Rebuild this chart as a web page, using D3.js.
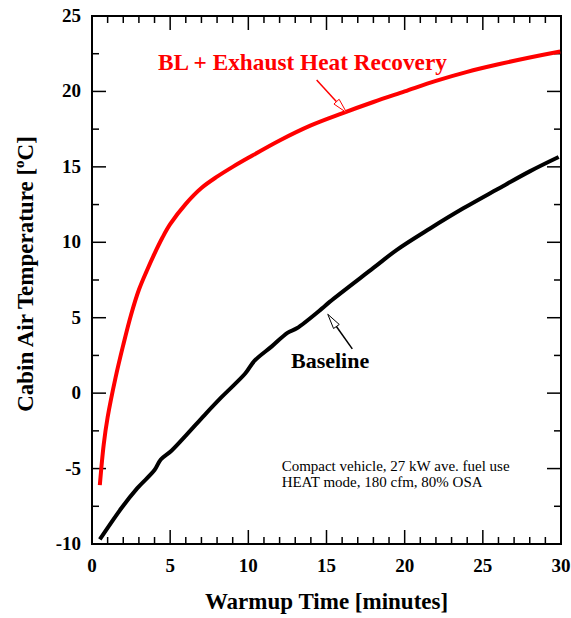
<!DOCTYPE html>
<html><head><meta charset="utf-8">
<script src="https://cdn.jsdelivr.net/npm/d3@7"></script>
<style>body{margin:0;background:#fff}svg{display:block}</style>
</head><body><div id="chart"></div>
<script>
const redT = [0.5,0.75,1,1.5,2,2.5,3,3.5,4,4.5,5,6,7,8,9,10,12,14,16,18,20,22,24,26,28,29.95];
const redV = [-6.1,-3.4,-1.6,1.0,3.2,5.2,6.85,8.1,9.25,10.3,11.2,12.55,13.6,14.35,15.0,15.6,16.75,17.75,18.55,19.3,20.0,20.7,21.3,21.8,22.25,22.65];
const blackT = [0.5,1.9,2.9,4.0,4.4,5.1,6.1,7.2,8.3,9.8,10.4,11.5,12.5,13.1,14.7,15.2,18.0,19.5,21.6,23.75,25.9,28.0,29.85];
const blackV = [-9.7,-7.6,-6.3,-5.1,-4.4,-3.8,-2.7,-1.45,-0.25,1.3,2.15,3.1,4.0,4.3,5.6,6.05,8.3,9.5,10.9,12.25,13.5,14.7,15.65];
const xTicks = [0,5,10,15,20,25,30];
const yTicks = [-10,-5,0,5,10,15,20,25];
const xLabel = "Warmup Time [minutes]";
const redLabel = "BL + Exhaust Heat Recovery";
const blackLabel = "Baseline";
const noteLines = ["Compact vehicle, 27 kW ave. fuel use", "HEAT mode, 180 cfm, 80% OSA"];

const W = 571, H = 618;
const m = {l:92, t:16, r:10, b:74};
const svg = d3.select("#chart").append("svg").attr("width", W).attr("height", H);
const x = d3.scaleLinear().domain([0,30]).range([m.l, W-m.r]);
const y = d3.scaleLinear().domain([-10,25]).range([H-m.b, m.t]);
const font = "'Liberation Serif','Times New Roman',serif";

// minor & major ticks on all four sides
const g = svg.append("g").attr("stroke","#000").attr("stroke-width",1.5);
d3.range(0,31,1).forEach(v=>{
  const L = v%5===0 ? 14 : 7;
  g.append("line").attr("x1",x(v)).attr("x2",x(v)).attr("y1",y(-10)).attr("y2",y(-10)-L);
  g.append("line").attr("x1",x(v)).attr("x2",x(v)).attr("y1",y(25)).attr("y2",y(25)+L);
});
d3.range(-10,25.1,2.5).forEach(v=>{
  const L = v%5===0 ? 14 : 7;
  g.append("line").attr("y1",y(v)).attr("y2",y(v)).attr("x1",x(0)).attr("x2",x(0)+L);
  g.append("line").attr("y1",y(v)).attr("y2",y(v)).attr("x1",x(30)).attr("x2",x(30)-L);
});
svg.append("rect").attr("x",x(0)).attr("y",y(25)).attr("width",x(30)-x(0)).attr("height",y(-10)-y(25))
  .attr("fill","none").attr("stroke","#000").attr("stroke-width",2);

// tick labels
svg.append("g").selectAll("text").data(xTicks).join("text")
  .attr("x",d=>x(d)).attr("y",y(-10)+28).attr("text-anchor","middle")
  .attr("font-family",font).attr("font-weight","bold").attr("font-size",19).text(d=>d);
svg.append("g").selectAll("text").data(yTicks).join("text")
  .attr("x",x(0)-11).attr("y",d=>y(d)+6).attr("text-anchor","end")
  .attr("font-family",font).attr("font-weight","bold").attr("font-size",19).text(d=>d);

// axis titles
svg.append("text").attr("x",(x(0)+x(30))/2).attr("y",609).attr("text-anchor","middle")
  .attr("font-family",font).attr("font-weight","bold").attr("font-size",23).text(xLabel);
const yt = svg.append("text").attr("transform",`translate(33,${274}) rotate(-90)`).attr("text-anchor","middle")
  .attr("font-family",font).attr("font-weight","bold").attr("font-size",23);
yt.append("tspan").text("Cabin Air Temperature [");
yt.append("tspan").attr("font-size",15).attr("dy",-9).text("o");
yt.append("tspan").attr("dy",9).text("C]");

// curves
const line = d3.line().x(d=>x(d[0])).y(d=>y(d[1])).curve(d3.curveCatmullRom.alpha(0.5));
svg.append("path").datum(redT.map((t,i)=>[t,redV[i]])).attr("d",line)
  .attr("fill","none").attr("stroke","#ff0000").attr("stroke-width",4);
svg.append("path").datum(blackT.map((t,i)=>[t,blackV[i]])).attr("d",line)
  .attr("fill","none").attr("stroke","#000").attr("stroke-width",4).attr("stroke-linejoin","round");

// arrows
function arrow(t0,v0,t1,v1,color){
  const x0=x(t0),y0=y(v0),x1=x(t1),y1=y(v1);
  const dx=x1-x0, dy=y1-y0, len=Math.hypot(dx,dy), ux=dx/len, uy=dy/len;
  const hl=15, hw=3.5;
  const bx=x1-ux*hl, by=y1-uy*hl;
  svg.append("line").attr("x1",x0).attr("y1",y0).attr("x2",bx).attr("y2",by)
    .attr("stroke",color).attr("stroke-width",1.5);
  svg.append("path").attr("d",`M${x1},${y1}L${bx-uy*hw},${by+ux*hw}L${bx+uy*hw},${by-ux*hw}Z`)
    .attr("fill","#fff").attr("stroke",color).attr("stroke-width",1);
}
arrow(14.37,20.76,16.29,18.59,"#ff0000");
arrow(16.65,2.93,15.08,5.23,"#000");

// labels
svg.append("text").attr("x",x(4.22)).attr("y",y(21.45)).attr("fill","#ff0000")
  .attr("font-family",font).attr("font-weight","bold").attr("font-size",23.3).text(redLabel);
svg.append("text").attr("x",x(12.73)).attr("y",y(1.65)).attr("fill","#000")
  .attr("font-family",font).attr("font-weight","bold").attr("font-size",22).text(blackLabel);
noteLines.forEach((s,i)=>{
  svg.append("text").attr("x",x(12.13)).attr("y",y(-5.14)+i*16)
    .attr("font-family",font).attr("font-size",15).text(s);
});
</script></body></html>
